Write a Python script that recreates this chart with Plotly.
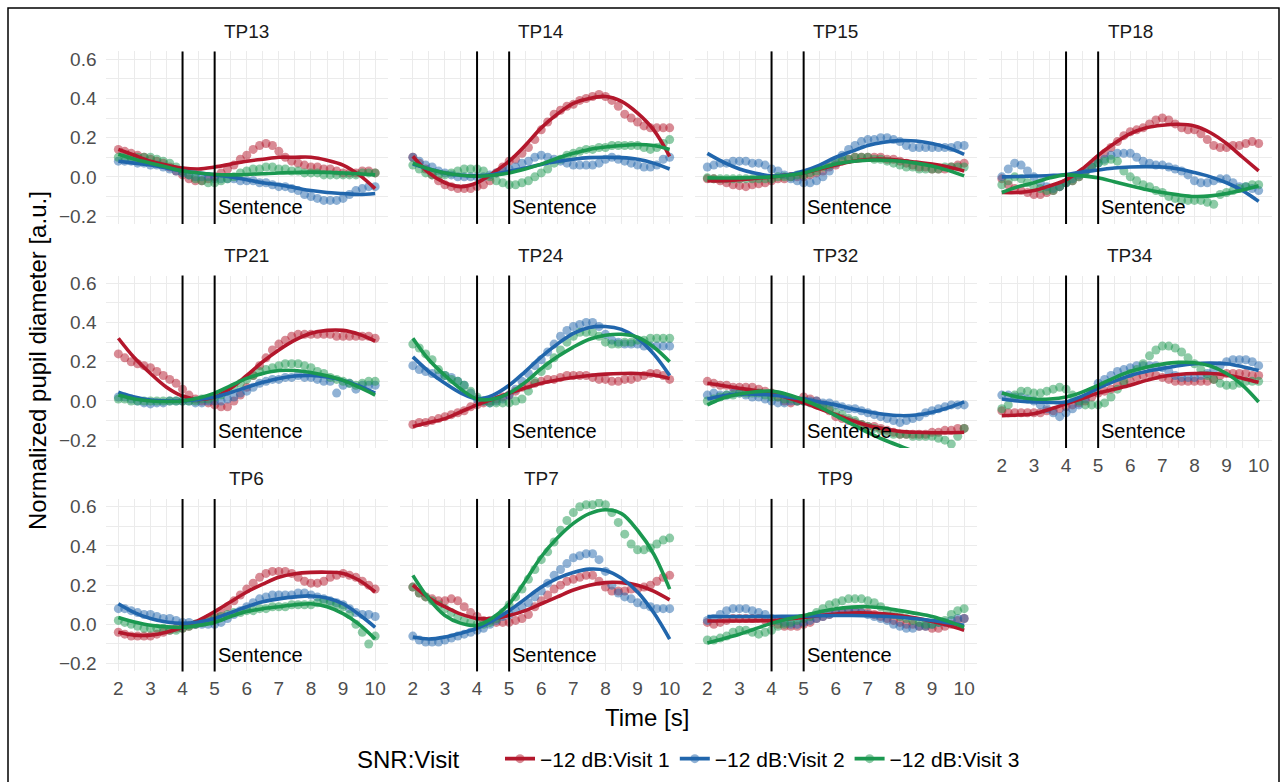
import plotly.graph_objects as go

# ---------------- data ----------------
time_s = [2.0, 2.2, 2.4, 2.6, 2.8, 3.0, 3.2, 3.4, 3.6, 3.8, 4.0, 4.2, 4.4, 4.6, 4.8,
          5.0, 5.2, 5.4, 5.6, 5.8, 6.0, 6.2, 6.4, 6.6, 6.8, 7.0, 7.2, 7.4, 7.6, 7.8,
          8.0, 8.2, 8.4, 8.6, 8.8, 9.0, 9.2, 9.4, 9.6, 9.8, 10.0]
fit_time_s = [2.0, 2.5, 3.0, 3.5, 4.0, 4.5, 5.0, 5.5, 6.0, 6.5, 7.0, 7.5, 8.0, 8.5, 9.0, 9.5, 10.0]

panels = ["TP13", "TP14", "TP15", "TP18", "TP21", "TP24", "TP32", "TP34", "TP6", "TP7", "TP9"]
series_names = ["\u221212 dB:Visit 1", "\u221212 dB:Visit 2", "\u221212 dB:Visit 3"]
x_ticks = [2, 3, 4, 5, 6, 7, 8, 9, 10]
y_ticks = [-0.2, 0.0, 0.2, 0.4, 0.6]
y_ticklabels = ["\u22120.2", "0.0", "0.2", "0.4", "0.6"]
sentence_on, sentence_off = 4, 5

TP13_v1 = [0.14,0.13,0.12,0.11,0.10,0.09,0.08,0.07,0.05,0.03,0.01,-0.01,-0.02,-0.02,-0.01,0.00,0.02,0.04,0.06,0.09,0.11,0.14,0.16,0.17,0.16,0.13,0.10,0.08,0.07,0.06,0.05,0.05,0.04,0.04,0.03,0.02,0.02,0.02,0.03,0.03,0.02]
TP13_v2 = [0.08,0.08,0.08,0.07,0.07,0.06,0.06,0.05,0.04,0.03,0.02,0.01,0.00,0.00,0.00,-0.01,-0.01,-0.01,-0.01,-0.02,-0.02,-0.02,-0.03,-0.03,-0.04,-0.05,-0.05,-0.06,-0.07,-0.09,-0.10,-0.11,-0.12,-0.12,-0.12,-0.11,-0.09,-0.07,-0.06,-0.05,-0.05]
TP13_v3 = [0.10,0.10,0.10,0.10,0.10,0.10,0.09,0.08,0.07,0.05,0.03,0.01,-0.01,-0.02,-0.03,-0.03,-0.02,-0.01,0.00,0.02,0.03,0.04,0.04,0.05,0.05,0.04,0.04,0.03,0.03,0.02,0.02,0.02,0.01,0.01,0.01,0.01,0.01,0.01,0.02,0.02,0.02]
TP13_f1 = [0.14,0.11,0.08,0.06,0.045,0.04,0.05,0.065,0.08,0.09,0.10,0.10,0.10,0.085,0.06,0.01,-0.06]
TP13_f2 = [0.08,0.07,0.06,0.045,0.03,0.02,0.01,0.0,-0.015,-0.03,-0.04,-0.055,-0.07,-0.08,-0.085,-0.09,-0.085]
TP13_f3 = [0.115,0.09,0.07,0.05,0.03,0.02,0.012,0.01,0.012,0.016,0.02,0.022,0.024,0.023,0.02,0.016,0.01]

TP14_v1 = [0.10,0.07,0.04,0.01,-0.02,-0.04,-0.05,-0.06,-0.06,-0.06,-0.05,-0.04,-0.02,0.02,0.05,0.08,0.09,0.12,0.15,0.19,0.24,0.28,0.32,0.34,0.36,0.37,0.39,0.40,0.41,0.42,0.41,0.39,0.36,0.32,0.30,0.28,0.26,0.25,0.25,0.25,0.25]
TP14_v2 = [0.10,0.08,0.06,0.05,0.03,0.02,0.01,0.00,0.00,0.00,0.00,0.00,0.01,0.02,0.03,0.04,0.05,0.07,0.08,0.10,0.11,0.10,0.09,0.08,0.07,0.06,0.06,0.06,0.06,0.07,0.09,0.10,0.09,0.08,0.07,0.06,0.05,0.05,0.06,0.09,0.10]
TP14_v3 = [0.06,0.04,0.02,0.01,0.01,0.01,0.02,0.03,0.04,0.04,0.04,0.03,0.00,-0.02,-0.03,-0.04,-0.04,-0.03,-0.02,0.00,0.02,0.04,0.07,0.09,0.11,0.12,0.13,0.14,0.14,0.15,0.15,0.16,0.16,0.16,0.16,0.16,0.15,0.14,0.15,0.17,0.19]
TP14_f1 = [0.105,0.02,-0.03,-0.05,-0.03,0.02,0.08,0.16,0.25,0.32,0.375,0.40,0.41,0.385,0.325,0.24,0.105]
TP14_f2 = [0.065,0.04,0.02,0.008,0.005,0.012,0.028,0.045,0.063,0.078,0.09,0.098,0.10,0.098,0.09,0.07,0.04]
TP14_f3 = [0.07,0.04,0.02,0.008,0.003,0.008,0.02,0.04,0.065,0.095,0.12,0.14,0.152,0.16,0.165,0.16,0.14]

TP15_v1 = [-0.01,-0.01,-0.02,-0.03,-0.04,-0.045,-0.05,-0.04,-0.035,-0.03,-0.02,-0.01,-0.01,0.00,0.00,0.00,0.01,0.02,0.03,0.05,0.06,0.08,0.09,0.10,0.10,0.10,0.10,0.10,0.09,0.09,0.08,0.07,0.06,0.05,0.05,0.04,0.04,0.04,0.05,0.06,0.07]
TP15_v2 = [0.05,0.06,0.07,0.07,0.08,0.08,0.08,0.07,0.07,0.06,0.04,0.03,0.01,-0.01,-0.02,-0.03,-0.03,-0.02,0.00,0.03,0.07,0.11,0.14,0.16,0.18,0.19,0.19,0.20,0.20,0.19,0.18,0.16,0.15,0.15,0.15,0.15,0.15,0.15,0.15,0.16,0.16]
TP15_v3 = [-0.005,-0.01,-0.01,-0.01,-0.01,-0.01,-0.01,-0.01,-0.01,-0.01,-0.01,0.00,0.00,0.00,0.01,0.01,0.02,0.03,0.05,0.06,0.08,0.09,0.09,0.10,0.10,0.10,0.09,0.09,0.08,0.07,0.06,0.05,0.05,0.04,0.04,0.04,0.04,0.05,0.05,0.05,0.05]
TP15_f1 = [-0.02,-0.02,-0.015,-0.008,0.0,0.01,0.02,0.04,0.06,0.078,0.088,0.09,0.085,0.075,0.065,0.05,0.03]
TP15_f2 = [0.12,0.075,0.04,0.018,0.005,0.01,0.03,0.06,0.10,0.13,0.16,0.177,0.185,0.183,0.17,0.148,0.115]
TP15_f3 = [-0.005,-0.006,-0.005,-0.003,0.0,0.008,0.02,0.043,0.065,0.078,0.085,0.085,0.08,0.07,0.055,0.033,0.005]

TP18_v1 = [-0.01,-0.04,-0.06,-0.07,-0.08,-0.09,-0.09,-0.08,-0.07,-0.05,-0.03,-0.02,0.00,0.03,0.06,0.09,0.12,0.15,0.18,0.21,0.23,0.24,0.25,0.27,0.29,0.30,0.29,0.27,0.25,0.24,0.24,0.22,0.19,0.16,0.15,0.15,0.16,0.16,0.17,0.18,0.17]
TP18_v2 = [0.00,0.04,0.07,0.06,0.03,0.00,-0.03,-0.05,-0.06,-0.05,-0.03,-0.01,0.01,0.03,0.05,0.07,0.09,0.11,0.12,0.12,0.12,0.10,0.08,0.07,0.06,0.06,0.05,0.04,0.03,0.01,-0.02,-0.03,-0.03,-0.02,-0.01,-0.01,-0.03,-0.05,-0.05,-0.06,-0.07]
TP18_v3 = [-0.04,-0.02,0.00,-0.01,-0.03,-0.05,-0.06,-0.07,-0.07,-0.05,-0.03,-0.02,0.00,0.02,0.05,0.07,0.08,0.09,0.08,0.03,0.00,-0.02,-0.04,-0.05,-0.07,-0.08,-0.10,-0.11,-0.12,-0.12,-0.12,-0.12,-0.13,-0.14,-0.09,-0.08,-0.07,-0.06,-0.05,-0.04,-0.04]
TP18_f1 = [-0.08,-0.08,-0.07,-0.045,-0.015,0.04,0.11,0.17,0.22,0.25,0.263,0.268,0.26,0.225,0.17,0.10,0.03]
TP18_f2 = [0.0,0.002,0.004,0.007,0.012,0.025,0.035,0.045,0.05,0.052,0.05,0.04,0.022,0.0,-0.03,-0.07,-0.125]
TP18_f3 = [-0.08,-0.05,-0.03,-0.005,0.01,0.005,-0.005,-0.025,-0.045,-0.065,-0.08,-0.092,-0.10,-0.097,-0.085,-0.067,-0.045]

TP21_v1 = [0.24,0.22,0.20,0.19,0.18,0.17,0.15,0.13,0.11,0.09,0.06,0.03,0.01,0.00,-0.01,-0.02,-0.03,-0.03,0.00,0.03,0.07,0.13,0.18,0.22,0.26,0.29,0.31,0.33,0.34,0.34,0.34,0.34,0.34,0.34,0.33,0.33,0.33,0.33,0.33,0.33,0.32]
TP21_v2 = [0.02,0.02,0.01,0.00,-0.01,-0.015,-0.01,-0.01,0.00,0.00,0.00,0.00,-0.01,-0.01,0.00,0.00,0.00,0.01,0.02,0.04,0.05,0.07,0.09,0.10,0.11,0.11,0.12,0.12,0.13,0.12,0.12,0.11,0.10,0.10,0.04,0.08,0.09,0.06,0.08,0.08,0.08]
TP21_v3 = [0.01,0.01,0.00,0.00,0.00,0.00,0.00,0.00,0.00,0.00,0.00,0.00,0.00,0.01,0.01,0.02,0.03,0.05,0.07,0.09,0.11,0.13,0.15,0.16,0.17,0.18,0.19,0.19,0.19,0.18,0.17,0.15,0.14,0.12,0.11,0.10,0.09,0.08,0.09,0.10,0.10]
TP21_f1 = [0.32,0.22,0.14,0.07,0.025,0.008,0.02,0.065,0.13,0.20,0.26,0.31,0.345,0.36,0.36,0.34,0.305]
TP21_f2 = [0.045,0.02,0.005,0.0,0.0,0.008,0.02,0.043,0.07,0.095,0.115,0.127,0.13,0.122,0.105,0.077,0.04]
TP21_f3 = [0.03,0.01,0.0,-0.003,0.0,0.015,0.04,0.078,0.115,0.14,0.155,0.155,0.145,0.128,0.105,0.07,0.03]

TP24_v1 = [-0.12,-0.11,-0.11,-0.10,-0.09,-0.08,-0.07,-0.06,-0.05,-0.03,-0.02,-0.01,0.00,0.01,0.02,0.03,0.05,0.07,0.08,0.09,0.10,0.11,0.11,0.12,0.13,0.13,0.13,0.13,0.12,0.11,0.11,0.10,0.10,0.11,0.11,0.12,0.13,0.14,0.14,0.13,0.11]
TP24_v2 = [0.18,0.16,0.15,0.14,0.13,0.13,0.12,0.10,0.08,0.04,0.01,0.00,-0.01,0.00,0.01,0.03,0.06,0.10,0.14,0.18,0.21,0.25,0.29,0.33,0.36,0.38,0.39,0.40,0.40,0.38,0.34,0.31,0.30,0.29,0.29,0.29,0.28,0.28,0.28,0.28,0.28]
TP24_v3 = [0.29,0.27,0.24,0.21,0.16,0.13,0.11,0.10,0.08,0.05,0.02,0.00,-0.01,-0.01,-0.01,-0.01,0.00,0.01,0.05,0.10,0.15,0.18,0.22,0.26,0.30,0.33,0.35,0.35,0.35,0.33,0.30,0.29,0.29,0.30,0.30,0.31,0.31,0.32,0.32,0.32,0.32]
TP24_f1 = [-0.13,-0.11,-0.09,-0.055,-0.02,0.01,0.04,0.066,0.09,0.107,0.12,0.13,0.137,0.14,0.14,0.132,0.115]
TP24_f2 = [0.225,0.15,0.09,0.04,0.01,0.03,0.08,0.15,0.225,0.29,0.345,0.375,0.38,0.365,0.32,0.24,0.13]
TP24_f3 = [0.32,0.21,0.13,0.06,0.01,0.01,0.04,0.095,0.165,0.225,0.275,0.315,0.335,0.34,0.325,0.275,0.2]

TP32_v1 = [0.10,0.09,0.08,0.08,0.07,0.07,0.07,0.07,0.06,0.05,0.04,0.02,0.00,-0.01,0.00,0.02,0.01,0.00,-0.02,-0.05,-0.08,-0.09,-0.10,-0.11,-0.12,-0.13,-0.13,-0.14,-0.15,-0.16,-0.17,-0.17,-0.17,-0.17,-0.17,-0.16,-0.16,-0.15,-0.15,-0.14,-0.14]
TP32_v2 = [0.03,0.04,0.03,0.03,0.04,0.04,0.03,0.02,0.02,0.01,0.00,-0.01,-0.01,0.00,0.00,0.00,0.00,0.00,-0.01,-0.01,-0.02,-0.03,-0.04,-0.04,-0.05,-0.06,-0.07,-0.08,-0.09,-0.10,-0.11,-0.10,-0.09,-0.08,-0.06,-0.05,-0.04,-0.03,-0.02,-0.02,-0.02]
TP32_v3 = [0.00,0.01,0.02,0.03,0.03,0.04,0.04,0.04,0.04,0.03,0.02,0.02,0.01,0.01,0.00,0.00,-0.01,-0.02,-0.03,-0.04,-0.06,-0.07,-0.09,-0.10,-0.12,-0.13,-0.14,-0.15,-0.16,-0.17,-0.17,-0.17,-0.18,-0.18,-0.18,-0.18,-0.19,-0.20,-0.22,-0.18,-0.14]
TP32_f1 = [0.09,0.078,0.065,0.053,0.04,0.016,-0.01,-0.04,-0.07,-0.10,-0.125,-0.142,-0.155,-0.16,-0.162,-0.162,-0.16]
TP32_f2 = [0.01,0.027,0.035,0.035,0.03,0.02,0.01,-0.005,-0.02,-0.04,-0.055,-0.068,-0.075,-0.072,-0.058,-0.035,-0.005]
TP32_f3 = [-0.02,0.015,0.035,0.047,0.05,0.033,0.005,-0.03,-0.075,-0.118,-0.16,-0.198,-0.23,-0.26,-0.28,-0.30,-0.31]

TP34_v1 = [-0.05,-0.06,-0.06,-0.06,-0.06,-0.06,-0.06,-0.05,-0.05,-0.04,-0.03,-0.02,-0.01,0.00,0.02,0.04,0.05,0.06,0.08,0.09,0.10,0.12,0.13,0.14,0.13,0.12,0.11,0.10,0.10,0.10,0.10,0.10,0.10,0.11,0.13,0.14,0.14,0.14,0.14,0.13,0.13]
TP34_v2 = [0.03,0.03,0.02,0.02,0.01,0.00,-0.02,-0.04,-0.06,-0.08,-0.06,-0.04,-0.02,0.01,0.05,0.09,0.11,0.13,0.15,0.16,0.17,0.18,0.18,0.18,0.18,0.17,0.15,0.13,0.12,0.12,0.12,0.13,0.14,0.16,0.18,0.20,0.21,0.21,0.21,0.20,0.18]
TP34_v3 = [-0.04,-0.02,0.03,0.05,0.05,0.04,0.04,0.05,0.06,0.07,0.06,0.03,0.00,-0.02,-0.02,-0.02,-0.01,0.02,0.06,0.10,0.14,0.16,0.19,0.23,0.26,0.28,0.28,0.27,0.25,0.22,0.19,0.16,0.13,0.11,0.09,0.08,0.08,0.09,0.10,0.10,0.10]
TP34_f1 = [-0.075,-0.072,-0.065,-0.042,-0.015,0.012,0.04,0.06,0.08,0.105,0.125,0.135,0.14,0.14,0.132,0.115,0.095]
TP34_f2 = [0.01,0.0,-0.005,-0.008,-0.005,0.025,0.065,0.10,0.13,0.15,0.165,0.18,0.19,0.193,0.19,0.175,0.155]
TP34_f3 = [0.04,0.02,0.01,0.01,0.02,0.045,0.08,0.118,0.15,0.172,0.188,0.197,0.195,0.178,0.14,0.08,-0.005]

TP6_v1 = [-0.04,-0.05,-0.06,-0.06,-0.06,-0.06,-0.05,-0.04,-0.03,-0.02,-0.02,-0.01,0.00,0.01,0.03,0.04,0.06,0.09,0.12,0.15,0.18,0.21,0.24,0.26,0.27,0.27,0.27,0.26,0.24,0.22,0.21,0.21,0.22,0.24,0.25,0.26,0.25,0.24,0.22,0.20,0.18]
TP6_v2 = [0.08,0.08,0.07,0.06,0.05,0.05,0.04,0.03,0.03,0.02,0.01,0.01,0.00,0.00,0.00,0.00,0.01,0.03,0.05,0.07,0.09,0.11,0.13,0.14,0.15,0.15,0.15,0.15,0.16,0.16,0.15,0.14,0.13,0.12,0.11,0.10,0.08,0.06,0.05,0.05,0.04]
TP6_v3 = [0.02,0.01,0.00,-0.01,-0.02,-0.02,-0.02,-0.02,-0.03,-0.03,-0.02,-0.01,0.00,0.01,0.02,0.03,0.04,0.05,0.06,0.06,0.07,0.07,0.08,0.08,0.09,0.09,0.09,0.10,0.10,0.10,0.10,0.11,0.12,0.11,0.10,0.09,0.05,0.00,-0.04,-0.10,-0.06]
TP6_f1 = [-0.04,-0.055,-0.055,-0.04,-0.015,0.02,0.065,0.115,0.165,0.205,0.24,0.258,0.265,0.266,0.26,0.225,0.165]
TP6_f2 = [0.105,0.06,0.03,0.012,0.005,0.012,0.03,0.06,0.09,0.115,0.13,0.14,0.145,0.135,0.105,0.05,-0.015]
TP6_f3 = [0.035,0.012,-0.005,-0.013,-0.015,-0.005,0.01,0.04,0.065,0.08,0.09,0.10,0.105,0.09,0.055,0.0,-0.075]

TP7_v1 = [0.19,0.16,0.14,0.13,0.12,0.12,0.13,0.12,0.09,0.06,0.04,0.02,0.02,0.01,0.01,0.01,0.02,0.03,0.05,0.09,0.12,0.15,0.18,0.20,0.22,0.23,0.24,0.25,0.25,0.22,0.19,0.17,0.17,0.17,0.18,0.18,0.19,0.20,0.22,0.24,0.25]
TP7_v2 = [-0.06,-0.08,-0.09,-0.09,-0.09,-0.08,-0.07,-0.06,-0.05,-0.04,-0.03,-0.02,0.00,0.02,0.04,0.05,0.07,0.09,0.11,0.14,0.17,0.21,0.25,0.28,0.31,0.34,0.35,0.36,0.36,0.33,0.27,0.20,0.16,0.14,0.13,0.11,0.10,0.09,0.08,0.08,0.08]
TP7_v3 = [0.19,0.16,0.14,0.12,0.10,0.08,0.06,0.04,0.02,0.01,0.00,0.00,0.01,0.03,0.06,0.10,0.14,0.18,0.23,0.28,0.33,0.37,0.42,0.48,0.53,0.57,0.60,0.61,0.61,0.62,0.61,0.57,0.52,0.46,0.41,0.38,0.38,0.39,0.41,0.43,0.44]
TP7_f1 = [0.2,0.135,0.09,0.052,0.03,0.03,0.045,0.07,0.105,0.14,0.175,0.2,0.213,0.213,0.2,0.17,0.125]
TP7_f2 = [-0.065,-0.075,-0.065,-0.045,-0.02,0.02,0.07,0.13,0.19,0.235,0.265,0.282,0.275,0.235,0.165,0.06,-0.075]
TP7_f3 = [0.25,0.13,0.045,0.005,-0.005,0.035,0.105,0.22,0.345,0.44,0.515,0.565,0.585,0.565,0.48,0.36,0.18]

TP9_v1 = [0.01,0.00,0.01,0.02,0.03,0.03,0.03,0.03,0.03,0.02,0.01,0.00,-0.01,-0.01,-0.01,0.00,0.01,0.03,0.04,0.05,0.06,0.06,0.07,0.07,0.06,0.06,0.05,0.04,0.03,0.02,0.01,0.00,0.00,-0.01,-0.01,-0.02,-0.02,-0.01,0.00,0.02,0.03]
TP9_v2 = [0.02,0.03,0.05,0.07,0.08,0.08,0.08,0.07,0.06,0.05,0.03,0.02,0.01,0.00,0.00,0.01,0.02,0.03,0.04,0.05,0.06,0.06,0.07,0.07,0.06,0.05,0.04,0.03,0.02,0.00,-0.01,-0.02,-0.02,-0.01,-0.01,0.00,0.01,0.01,0.02,0.03,0.03]
TP9_v3 = [-0.08,-0.08,-0.07,-0.06,-0.04,-0.03,-0.03,-0.04,-0.05,-0.04,-0.03,-0.01,0.00,0.01,0.02,0.03,0.04,0.06,0.08,0.10,0.11,0.12,0.13,0.13,0.13,0.12,0.11,0.09,0.07,0.05,0.04,0.03,0.02,0.01,0.00,0.00,0.01,0.02,0.05,0.07,0.08]
TP9_f1 = [0.017,0.017,0.017,0.018,0.02,0.027,0.035,0.045,0.053,0.058,0.058,0.054,0.045,0.032,0.015,-0.005,-0.03]
TP9_f2 = [0.04,0.04,0.04,0.04,0.04,0.041,0.042,0.044,0.045,0.045,0.044,0.041,0.036,0.029,0.02,0.008,-0.005]
TP9_f3 = [-0.095,-0.073,-0.05,-0.022,0.005,0.027,0.045,0.064,0.08,0.088,0.09,0.083,0.07,0.056,0.04,0.015,-0.015]

points = {
    "TP13": [TP13_v1, TP13_v2, TP13_v3], "TP14": [TP14_v1, TP14_v2, TP14_v3],
    "TP15": [TP15_v1, TP15_v2, TP15_v3], "TP18": [TP18_v1, TP18_v2, TP18_v3],
    "TP21": [TP21_v1, TP21_v2, TP21_v3], "TP24": [TP24_v1, TP24_v2, TP24_v3],
    "TP32": [TP32_v1, TP32_v2, TP32_v3], "TP34": [TP34_v1, TP34_v2, TP34_v3],
    "TP6": [TP6_v1, TP6_v2, TP6_v3], "TP7": [TP7_v1, TP7_v2, TP7_v3], "TP9": [TP9_v1, TP9_v2, TP9_v3],
}
fits = {
    "TP13": [TP13_f1, TP13_f2, TP13_f3], "TP14": [TP14_f1, TP14_f2, TP14_f3],
    "TP15": [TP15_f1, TP15_f2, TP15_f3], "TP18": [TP18_f1, TP18_f2, TP18_f3],
    "TP21": [TP21_f1, TP21_f2, TP21_f3], "TP24": [TP24_f1, TP24_f2, TP24_f3],
    "TP32": [TP32_f1, TP32_f2, TP32_f3], "TP34": [TP34_f1, TP34_f2, TP34_f3],
    "TP6": [TP6_f1, TP6_f2, TP6_f3], "TP7": [TP7_f1, TP7_f2, TP7_f3], "TP9": [TP9_f1, TP9_f2, TP9_f3],
}
for p in panels:
    for s in points[p]:
        assert len(s) == len(time_s), p
    for s in fits[p]:
        assert len(s) == len(fit_time_s), p

# ---------------- style / layout ----------------
W, H = 1287, 782
colors = ["#B3172C", "#2166AC", "#1B9850"]
FONT = "Liberation Sans, Arial, Helvetica, sans-serif"
GRID = "#EBEBEB"
col_left = [105.5, 400.0, 694.5, 989.0]
panel_w = 282.5
row_top = [51.4, 275.5, 498.9]
panel_h = 172.5

fig = go.Figure()
layout_axes = {}
annotations = []
shapes = []

for i, p in enumerate(panels):
    r, c = divmod(i, 4)
    k = i + 1
    xa = "x" if k == 1 else f"x{k}"
    ya = "y" if k == 1 else f"y{k}"
    left = col_left[c]
    top = row_top[r]
    show_x = (r == 2) or (p == "TP34")
    show_y = (c == 0)

    layout_axes["xaxis" if k == 1 else f"xaxis{k}"] = dict(
        domain=[left / W, (left + panel_w) / W], anchor=ya, range=[1.6, 10.4],
        tickmode="array", tickvals=x_ticks, ticktext=[str(t) for t in x_ticks],
        showticklabels=show_x, ticks="", ticklabelstandoff=4,
        tickfont=dict(size=19, color="#4D4D4D", family=FONT),
        showgrid=True, gridcolor=GRID, gridwidth=1.4,
        minor=dict(tickmode="array", tickvals=[2.5, 3.5, 4.5, 5.5, 6.5, 7.5, 8.5, 9.5],
                   showgrid=True, gridcolor=GRID, gridwidth=0.8),
        zeroline=False, showline=False, fixedrange=True,
    )
    layout_axes["yaxis" if k == 1 else f"yaxis{k}"] = dict(
        domain=[1 - (top + panel_h) / H, 1 - top / H], anchor=xa, range=[-0.24, 0.64],
        tickmode="array", tickvals=y_ticks, ticktext=y_ticklabels,
        showticklabels=show_y, ticks="", ticklabelstandoff=8,
        tickfont=dict(size=19, color="#4D4D4D", family=FONT),
        showgrid=True, gridcolor=GRID, gridwidth=1.4,
        minor=dict(tickmode="array", tickvals=[-0.1, 0.1, 0.3, 0.5],
                   showgrid=True, gridcolor=GRID, gridwidth=0.8),
        zeroline=False, showline=False, fixedrange=True,
    )

    for j in range(3):
        fig.add_trace(go.Scatter(
            x=time_s, y=points[p][j], mode="markers", xaxis=xa, yaxis=ya,
            marker=dict(color=colors[j], size=9, opacity=0.5, line=dict(width=0)),
            showlegend=False, hoverinfo="skip"))
    for j in range(3):
        fig.add_trace(go.Scatter(
            x=fit_time_s, y=fits[p][j], mode="lines", xaxis=xa, yaxis=ya,
            line=dict(color=colors[j], width=3.6, shape="spline", smoothing=1.0),
            showlegend=False, hoverinfo="skip"))

    for xv in (sentence_on, sentence_off):
        shapes.append(dict(type="line", xref=xa, yref=f"{ya} domain", x0=xv, x1=xv, y0=0, y1=1,
                           line=dict(color="black", width=2)))
    annotations.append(dict(xref=xa, yref=ya, x=sentence_off, y=-0.155, text="Sentence",
                            xanchor="left", yanchor="middle", xshift=1, showarrow=False,
                            font=dict(size=20, color="black", family=FONT)))
    annotations.append(dict(xref="paper", yref="paper", x=(left + panel_w / 2) / W,
                            y=1 - (top - 20) / H, text=p, showarrow=False,
                            xanchor="center", yanchor="middle",
                            font=dict(size=19, color="#1A1A1A", family=FONT)))

# legend-only traces
for j in range(3):
    fig.add_trace(go.Scatter(
        x=[None], y=[None], mode="lines+markers", name=series_names[j],
        line=dict(color=colors[j], width=3.6),
        marker=dict(color=colors[j], size=9, opacity=0.5),
        showlegend=True, hoverinfo="skip"))

annotations.append(dict(xref="paper", yref="paper", x=37 / W, y=1 - 361 / H,
                        text="Normalized pupil diameter [a.u.]", textangle=-90, showarrow=False,
                        xanchor="center", yanchor="middle",
                        font=dict(size=24, color="black", family=FONT)))
annotations.append(dict(xref="paper", yref="paper", x=647 / W, y=1 - 717 / H,
                        text="Time [s]", showarrow=False, xanchor="center", yanchor="middle",
                        font=dict(size=24, color="black", family=FONT)))
annotations.append(dict(xref="paper", yref="paper", x=355 / W, y=1 - 759 / H,
                        text="SNR:Visit", showarrow=False, xanchor="left", yanchor="middle",
                        font=dict(size=24, color="black", family=FONT)))

shapes.append(dict(type="rect", xref="paper", yref="paper", x0=8 / W, x1=1279 / W,
                   y0=1 - 8 / H, y1=-0.05, line=dict(color="black", width=1.5),
                   fillcolor="rgba(0,0,0,0)", layer="below"))

fig.update_layout(
    width=W, height=H, autosize=False,
    margin=dict(l=0, r=0, t=0, b=0),
    paper_bgcolor="white", plot_bgcolor="white",
    template="none",
    font=dict(family=FONT, color="black"),
    showlegend=True,
    legend=dict(orientation="h", x=500 / W, xanchor="left", y=1 - 759 / H, yanchor="middle",
                font=dict(size=21, color="black", family=FONT), bgcolor="rgba(0,0,0,0)",
                itemwidth=30, traceorder="normal"),
    annotations=annotations,
    shapes=shapes,
    **layout_axes,
)

fig.write_html("out.html")
